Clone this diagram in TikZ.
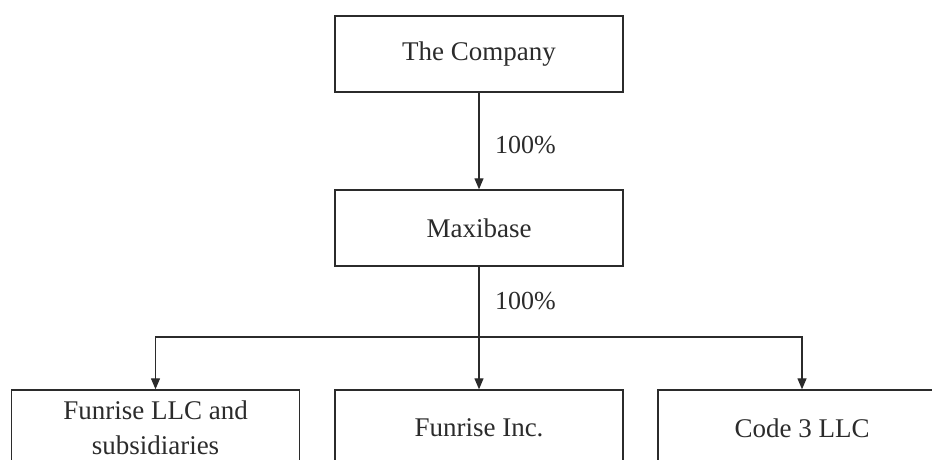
\documentclass[tikz,border=0pt]{standalone}
\usepackage{fontspec}
\setmainfont{Liberation Serif}
\usetikzlibrary{arrows.meta}
\definecolor{ink}{HTML}{2B2B2B}
\begin{document}
\begin{tikzpicture}[x=1pt,y=1pt,
  box/.style={draw=ink, line width=1.4pt, minimum width=288pt, minimum height=76pt, inner sep=0pt, align=center, text=ink, font=\fontsize{27}{35}\selectfont},
  lab/.style={anchor=west, inner sep=0pt, text=ink, font=\fontsize{26}{30}\selectfont},
  conn/.style={draw=ink, line width=1.3pt},
  arr/.style={conn, -{Triangle[length=11pt,width=9pt]}}]
\useasboundingbox (0,0) rectangle (932,-459);
\clip (0,0) rectangle (932,-459);
\node[box] (co) at (479,-54) {The Company};
\node[box] (mx) at (479,-228) {Maxibase};
\node[box] (f1) at (155.5,-428) {Funrise LLC and\\subsidiaries};
\node[box] (f2) at (479,-428) {Funrise Inc.};
\node[box] (f3) at (802,-428) {Code 3 LLC};
\coordinate (j) at (479,-337);
\draw[arr] (co) -- (mx);
\draw[conn] (mx) -- (j);
\draw[arr] (j) -| (f1);
\draw[arr] (j) -- (f2);
\draw[arr] (j) -| (f3);
\node[lab] (l1) at (495,-145) {100\%};
\node[lab] (l2) at (495,-301) {100\%};
\end{tikzpicture}
\end{document}
